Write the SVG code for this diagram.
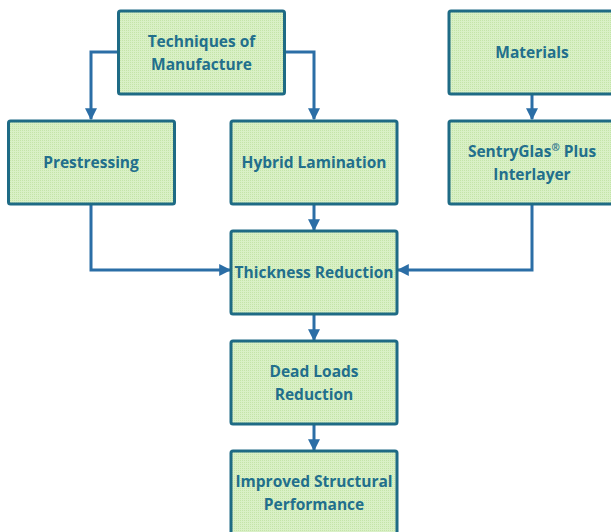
<svg xmlns="http://www.w3.org/2000/svg" width="611" height="532" viewBox="0 0 611 532">
  <defs>
    <pattern id="dots" width="2" height="2" patternUnits="userSpaceOnUse">
      <rect width="2" height="2" fill="#d9f0c6"/>
      <rect width="1" height="1" fill="#c4e4a8"/>
    </pattern>
    <marker id="arrow" viewBox="0 0 10 10" refX="9" refY="5" markerWidth="4" markerHeight="4" orient="auto" markerUnits="strokeWidth">
      <path d="M0,0 L10,5 L0,10 z" fill="#2b6ea6"/>
    </marker>
  </defs>
  <style>
    .box { fill: url(#dots); stroke: #1e6b85; stroke-width: 3; }
    .lbl { font-family: "Open Sans", "Liberation Sans", sans-serif; font-weight: bold; font-size: 15.5px; fill: #226f8c; text-anchor: middle; }
    .link { fill: none; stroke: #2b6ea6; stroke-width: 3; marker-end: url(#arrow); }
  </style>

  <g id="connectors">
    <path class="link" d="M118,52 H91 V119"/>
    <path class="link" d="M284,52 H314 V119"/>
    <path class="link" d="M532,94 V119"/>
    <path class="link" d="M91,204 V270 H230"/>
    <path class="link" d="M314,204 V230"/>
    <path class="link" d="M532,204 V270 H398"/>
    <path class="link" d="M314,314 V340"/>
    <path class="link" d="M314,424 V450"/>
  </g>

  <g id="techniques">
    <rect class="box" x="118.5" y="11" width="166" height="83" rx="2"/>
    <text class="lbl" x="201.5" y="47">Techniques of</text>
    <text class="lbl" x="201.5" y="70">Manufacture</text>
  </g>
  <g id="materials">
    <rect class="box" x="449" y="11" width="166" height="83" rx="2"/>
    <text class="lbl" x="532" y="58">Materials</text>
  </g>
  <g id="prestressing">
    <rect class="box" x="8.5" y="121" width="166" height="83" rx="2"/>
    <text class="lbl" x="91" y="168">Prestressing</text>
  </g>
  <g id="hybrid">
    <rect class="box" x="231" y="121" width="166" height="83" rx="2"/>
    <text class="lbl" x="314" y="168">Hybrid Lamination</text>
  </g>
  <g id="sentryglas">
    <rect class="box" x="449" y="121" width="166" height="83" rx="2"/>
    <text class="lbl" x="532" y="157">SentryGlas<tspan font-size="10" dy="-6">®</tspan><tspan dy="6"> Plus</tspan></text>
    <text class="lbl" x="532" y="180">Interlayer</text>
  </g>
  <g id="thickness">
    <rect class="box" x="231" y="231" width="166" height="83" rx="2"/>
    <text class="lbl" x="314" y="278">Thickness Reduction</text>
  </g>
  <g id="deadloads">
    <rect class="box" x="231" y="341" width="166" height="83" rx="2"/>
    <text class="lbl" x="314" y="377">Dead Loads</text>
    <text class="lbl" x="314" y="400">Reduction</text>
  </g>
  <g id="improved">
    <rect class="box" x="231" y="451" width="166" height="83" rx="2"/>
    <text class="lbl" x="314" y="487">Improved Structural</text>
    <text class="lbl" x="314" y="510">Performance</text>
  </g>
</svg>
